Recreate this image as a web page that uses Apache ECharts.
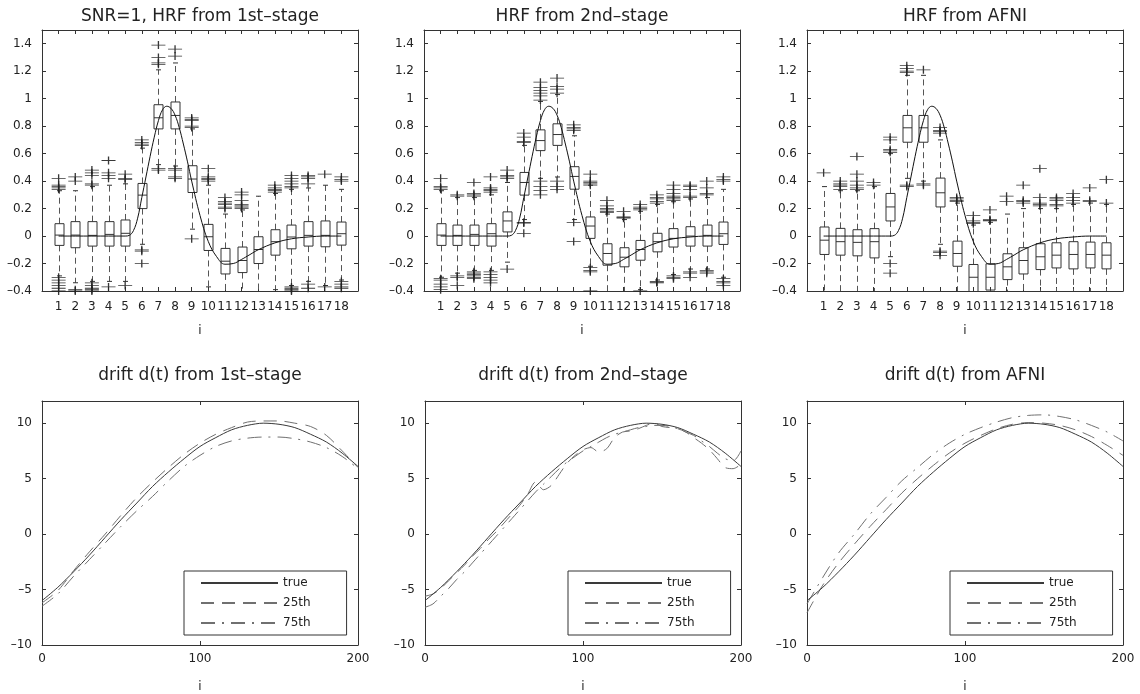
<!DOCTYPE html>
<html>
<head>
<meta charset="utf-8">
<script src="https://cdn.jsdelivr.net/npm/echarts@6/dist/echarts.min.js"></script>
<style>
  html, body { margin: 0; padding: 0; background: #fff; }
  #chart { width: 1140px; height: 694px; }
</style>
</head>
<body>
<div id="chart"></div>
<script>
// ---- top row: HRF boxplots (18 time points) ----
const categories = [1, 2, 3, 4, 5, 6, 7, 8, 9, 10, 11, 12, 13, 14, 15, 16, 17, 18];

// true HRF curve
const hrfX = [1, 2, 3, 4, 5, 5.25, 5.5, 5.75, 6, 6.25, 6.5, 6.75, 7, 7.25, 7.5, 7.75, 8, 8.25, 8.5, 8.75, 9, 9.5, 10, 10.5, 11, 11.5, 12, 12.5, 13, 14, 15, 16, 17, 18];
const hrfY = [0, 0, 0, 0, 0, 0.005, 0.04, 0.13, 0.28, 0.43, 0.58, 0.72, 0.84, 0.92, 0.945, 0.93, 0.88, 0.79, 0.67, 0.54, 0.40, 0.15, -0.04, -0.15, -0.205, -0.2, -0.17, -0.135, -0.10, -0.05, -0.02, -0.007, 0, 0];

// panel 1: 1st-stage
const p1Lo  = [-0.29, -0.34, -0.33, -0.33, -0.33, -0.06, 0.52, 0.51, 0.05, -0.37, -0.45, -0.45, -0.45, -0.39, -0.36, -0.33, -0.36, -0.32];
const p1Q1  = [-0.068, -0.085, -0.073, -0.073, -0.073, 0.20, 0.78, 0.78, 0.317, -0.105, -0.276, -0.266, -0.2, -0.139, -0.093, -0.073, -0.078, -0.066];
const p1Med = [0.007, 0.007, 0.005, 0.012, 0.02, 0.298, 0.861, 0.878, 0.415, -0.005, -0.183, -0.178, -0.098, -0.041, -0.007, 0.005, 0.005, 0.017];
const p1Q3  = [0.09, 0.105, 0.105, 0.105, 0.117, 0.383, 0.956, 0.976, 0.512, 0.085, -0.09, -0.08, -0.005, 0.046, 0.08, 0.105, 0.11, 0.102];
const p1Hi  = [0.33, 0.33, 0.36, 0.37, 0.38, 0.64, 1.21, 1.26, 0.78, 0.37, 0.16, 0.19, 0.29, 0.31, 0.34, 0.35, 0.37, 0.34];
const p1Out = [
  [0.34, 0.35, 0.36, 0.37, 0.42, -0.30, -0.32, -0.34, -0.36, -0.38, -0.40],
  [0.40, 0.43, -0.39, -0.40],
  [0.37, 0.38, 0.44, 0.46, 0.48, -0.34, -0.36, -0.38, -0.39, -0.40],
  [0.42, 0.44, 0.46, 0.55, -0.37],
  [0.41, 0.42, 0.45, -0.36],
  [0.66, 0.67, 0.68, 0.70, -0.10, -0.11, -0.20],
  [1.25, 1.26, 1.30, 1.39, 0.48, 0.49],
  [1.31, 1.36, 0.42, 0.43, 0.48, 0.49],
  [0.79, 0.80, 0.84, 0.85, 0.86, -0.02],
  [0.40, 0.41, 0.42, 0.43, 0.49],
  [0.20, 0.21, 0.23, 0.24, 0.25, 0.28],
  [0.20, 0.21, 0.22, 0.23, 0.26, 0.30, 0.32],
  [],
  [0.32, 0.33, 0.34, 0.35, 0.37],
  [0.35, 0.36, 0.38, 0.40, 0.42, 0.44, -0.37, -0.38, -0.39, -0.40],
  [0.38, 0.42, 0.43, 0.44, -0.35, -0.38],
  [0.45, -0.37],
  [0.40, 0.41, 0.43, -0.33, -0.35, -0.37, -0.38]
];

// panel 2: 2nd-stage
const p2Lo  = [-0.30, -0.27, -0.25, -0.25, -0.19, 0.12, 0.42, 0.43, 0.12, -0.22, -0.45, -0.45, -0.39, -0.32, -0.28, -0.24, -0.24, -0.30];
const p2Q1  = [-0.068, -0.068, -0.068, -0.073, 0.03, 0.298, 0.622, 0.66, 0.341, -0.017, -0.212, -0.224, -0.176, -0.115, -0.08, -0.073, -0.073, -0.061];
const p2Med = [0.007, 0.005, 0.012, 0.017, 0.11, 0.39, 0.695, 0.739, 0.434, 0.073, -0.127, -0.154, -0.098, -0.041, -0.017, 0, 0.005, 0.017];
const p2Q3  = [0.09, 0.08, 0.08, 0.09, 0.176, 0.463, 0.773, 0.817, 0.505, 0.139, -0.056, -0.085, -0.032, 0.02, 0.054, 0.068, 0.08, 0.102];
const p2Hi  = [0.33, 0.28, 0.28, 0.30, 0.39, 0.66, 0.98, 1.03, 0.73, 0.37, 0.16, 0.12, 0.18, 0.23, 0.25, 0.27, 0.28, 0.34];
const p2Out = [
  [0.34, 0.35, 0.36, 0.42, -0.31, -0.32, -0.35, -0.37, -0.39],
  [0.29, 0.30, -0.29, -0.30, -0.36],
  [0.29, 0.30, 0.31, 0.39, -0.26, -0.27, -0.28, -0.29, -0.30, -0.31],
  [0.32, 0.33, 0.34, 0.35, 0.43, -0.26, -0.28, -0.30, -0.32, -0.34],
  [0.42, 0.43, 0.44, 0.48, -0.24],
  [0.68, 0.69, 0.72, 0.75, 0.095, 0.10, 0.02],
  [0.99, 1.02, 1.04, 1.06, 1.08, 1.12, 0.30, 0.33, 0.36, 0.40],
  [1.04, 1.07, 1.09, 1.15, 0.34, 0.36, 0.40],
  [0.77, 0.78, 0.79, 0.81, 0.10, -0.04],
  [0.37, 0.38, 0.39, 0.40, 0.45, -0.23, -0.25, -0.26, -0.40],
  [0.17, 0.18, 0.19, 0.20, 0.22, 0.26],
  [0.13, 0.135, 0.14, 0.18],
  [0.19, 0.20, 0.21, 0.23, -0.40],
  [0.24, 0.25, 0.27, 0.28, 0.30, -0.33, -0.335, -0.34],
  [0.26, 0.27, 0.28, 0.29, 0.31, 0.34, 0.37, -0.29, -0.30, -0.31],
  [0.28, 0.29, 0.34, 0.36, 0.37, -0.26, -0.27, -0.30],
  [0.30, 0.31, 0.35, 0.40, -0.25, -0.26, -0.27],
  [0.40, 0.41, 0.43, -0.31, -0.33, -0.34, -0.36]
];

// panel 3: AFNI
const p3Lo  = [-0.45, -0.45, -0.45, -0.45, -0.15, 0.42, 0.40, -0.06, -0.45, -0.45, -0.45, -0.45, -0.45, -0.45, -0.45, -0.45, -0.45, -0.45];
const p3Q1  = [-0.134, -0.139, -0.144, -0.159, 0.11, 0.683, 0.683, 0.212, -0.22, -0.41, -0.393, -0.317, -0.276, -0.244, -0.232, -0.239, -0.232, -0.239];
const p3Med = [-0.03, -0.041, -0.046, -0.041, 0.212, 0.788, 0.788, 0.315, -0.127, -0.30, -0.30, -0.224, -0.178, -0.151, -0.139, -0.134, -0.134, -0.139];
const p3Q3  = [0.066, 0.056, 0.046, 0.054, 0.31, 0.878, 0.878, 0.422, -0.037, -0.207, -0.202, -0.129, -0.085, -0.056, -0.049, -0.041, -0.044, -0.049];
const p3Hi  = [0.36, 0.33, 0.33, 0.36, 0.60, 1.17, 1.17, 0.70, 0.24, 0.08, 0.10, 0.16, 0.20, 0.20, 0.20, 0.23, 0.24, 0.23];
const p3Out = [
  [0.46],
  [0.34, 0.36, 0.37, 0.38, 0.40],
  [0.34, 0.35, 0.37, 0.40, 0.45, 0.58],
  [0.37, 0.39],
  [0.61, 0.62, 0.63, 0.70, 0.72, -0.20, -0.27],
  [1.19, 1.20, 1.22, 1.24, 0.36, 0.37],
  [1.21, 0.37, 0.38],
  [0.75, 0.76, 0.77, 0.79, -0.11, -0.12, -0.14],
  [0.25, 0.26, 0.27, 0.28],
  [0.09, 0.10, 0.11, 0.15],
  [0.11, 0.115, 0.12, 0.19],
  [0.25, 0.29],
  [0.24, 0.25, 0.26, 0.37],
  [0.22, 0.23, 0.24, 0.28, 0.49],
  [0.22, 0.23, 0.26, 0.27, 0.28],
  [0.24, 0.26, 0.28, 0.31],
  [0.25, 0.26, 0.35],
  [0.24, 0.41]
];

const hrfTitles = ['SNR=1, HRF from 1st\u2013stage', 'HRF from 2nd\u2013stage', 'HRF from AFNI'];

// ---- bottom row: drift d(t) ----
const driftX = [0, 10, 20, 30, 40, 50, 60, 70, 80, 90, 100, 110, 120, 130, 140, 150, 160, 170, 180, 190, 200];
const driftTrue = [-6.0, -4.8, -3.4, -1.9, -0.3, 1.3, 2.8, 4.3, 5.6, 6.8, 7.9, 8.7, 9.4, 9.8, 10.0, 9.9, 9.6, 9.0, 8.3, 7.3, 6.1];
const d1Q25 = [-6.2, -5.1, -3.3, -1.6, 0.0, 1.7, 3.3, 4.7, 6.0, 7.2, 8.2, 9.0, 9.6, 10.1, 10.2, 10.2, 10.0, 9.7, 8.9, 7.5, 6.0];
const d1Q75 = [-6.5, -5.4, -3.8, -2.3, -0.8, 0.7, 2.1, 3.4, 4.8, 6.1, 7.1, 7.9, 8.4, 8.65, 8.75, 8.75, 8.6, 8.3, 7.8, 7.0, 5.9];
const d3Q25 = [-7.1, -4.6, -2.6, -0.9, 0.7, 2.2, 3.7, 5.0, 6.2, 7.3, 8.2, 8.9, 9.5, 9.9, 10.05, 10.0, 9.8, 9.4, 8.8, 8.0, 7.1];
const d3Q75 = [-6.3, -3.9, -1.7, 0.0, 1.8, 3.3, 4.8, 6.0, 7.2, 8.2, 9.0, 9.6, 10.1, 10.5, 10.7, 10.75, 10.6, 10.3, 9.8, 9.2, 8.4];
const driftX5 = [0, 5, 10, 15, 20, 25, 30, 35, 40, 45, 50, 55, 60, 65, 70, 75, 80, 85, 90, 95, 100, 105, 110, 115, 120, 125, 130, 135, 140, 145, 150, 155, 160, 165, 170, 175, 180, 185, 190, 195, 200];
const d2Q25 = [-5.6, -5.4, -4.9, -4.2, -3.5, -2.8, -2.0, -1.3, -0.5, 0.2, 1.0, 1.8, 2.6, 3.6, 4.7, 4.0, 4.4, 5.4, 6.4, 7.1, 7.6, 7.8, 7.4, 7.7, 8.7, 9.2, 9.3, 9.5, 9.8, 10.0, 9.7, 9.6, 9.5, 9.2, 8.7, 8.2, 7.6, 6.8, 6.0, 5.9, 6.3];
const d2Q75 = [-6.6, -6.3, -5.6, -4.9, -4.1, -3.4, -2.6, -1.8, -1.0, -0.2, 0.6, 1.4, 2.2, 3.0, 3.8, 4.5, 5.2, 5.9, 6.5, 7.0, 7.5, 7.9, 8.3, 8.7, 9.0, 9.2, 9.4, 9.6, 9.7, 9.8, 9.8, 9.7, 9.5, 9.2, 8.9, 8.4, 7.9, 7.3, 6.8, 6.6, 7.5];

const driftTitles = ['drift d(t) from 1st\u2013stage', 'drift d(t) from 2nd\u2013stage', 'drift d(t) from AFNI'];
const legendNames = ['true', '25th', '75th'];

// ---- layout ----
const FONT = '"DejaVu Sans", Verdana, sans-serif';
const INK = '#222';
const topLefts = [42, 424, 807];
const botLefts = [42, 425, 807];
const legendLefts = [184, 568, 950];

function pair(xs, ys) { return xs.map((x, i) => [x, ys[i]]); }

function tickText(v, skip) {
  if (skip.some(s => Math.abs(v - s) < 1e-9)) return '';
  return String(Math.round(v * 100) / 100).replace('-', '\u2013');
}

function makeAxes(gi, xCfg, yCfg, xName) {
  const base = {
    gridIndex: gi,
    type: 'value',
    axisLine: { show: true, onZero: false, lineStyle: { color: '#333', width: 1 } },
    axisTick: { show: true, inside: true, length: 4, lineStyle: { color: '#333' } },
    splitLine: { show: false }
  };
  const xs = [
    Object.assign({}, base, xCfg, {
      position: 'bottom',
      name: xName, nameLocation: 'middle', nameGap: xCfg.nameGap,
      nameTextStyle: { fontFamily: FONT, fontSize: 12, color: INK },
      axisLabel: { margin: xCfg.margin, fontFamily: FONT, fontSize: 12, color: INK,
        formatter: v => tickText(v, xCfg.skip) }
    }),
    Object.assign({}, base, xCfg, { position: 'top', axisLabel: { show: false } })
  ];
  const ys = [
    Object.assign({}, base, yCfg, {
      position: 'left',
      axisLabel: { margin: 10, fontFamily: FONT, fontSize: 12, color: INK,
        formatter: v => tickText(v, yCfg.skip) }
    }),
    Object.assign({}, base, yCfg, { position: 'right', axisLabel: { show: false } })
  ];
  xs.forEach(a => { delete a.skip; delete a.margin; });
  ys.forEach(a => { delete a.skip; });
  return { xs, ys };
}

function renderBox(params, api) {
  const x = api.value(0);
  const pLo = api.coord([x, api.value(1)]);
  const pQ1 = api.coord([x, api.value(2)]);
  const pMd = api.coord([x, api.value(3)]);
  const pQ3 = api.coord([x, api.value(4)]);
  const pHi = api.coord([x, api.value(5)]);
  const cx = Math.round(pMd[0]) + 0.5;
  const hw = 4.5, cw = 2.5;
  const cs = params.coordSys;
  const boxStyle = { stroke: '#333', fill: null, lineWidth: 1 };
  const whiskStyle = { stroke: '#555', fill: null, lineWidth: 1, lineDash: [6, 4] };
  return {
    type: 'group',
    clipPath: { type: 'rect', shape: { x: cs.x, y: cs.y, width: cs.width, height: cs.height } },
    children: [
      { type: 'line', shape: { x1: cx, y1: pQ3[1], x2: cx, y2: pHi[1] }, style: whiskStyle },
      { type: 'line', shape: { x1: cx, y1: pQ1[1], x2: cx, y2: pLo[1] }, style: whiskStyle },
      { type: 'line', shape: { x1: cx - cw, y1: pHi[1], x2: cx + cw, y2: pHi[1] }, style: boxStyle },
      { type: 'line', shape: { x1: cx - cw, y1: pLo[1], x2: cx + cw, y2: pLo[1] }, style: boxStyle },
      { type: 'rect', shape: { x: cx - hw, y: pQ3[1], width: 2 * hw, height: pQ1[1] - pQ3[1] }, style: boxStyle },
      { type: 'line', shape: { x1: cx - hw, y1: pMd[1], x2: cx + hw, y2: pMd[1] }, style: boxStyle }
    ]
  };
}

const hrfPanels = [
  [p1Lo, p1Q1, p1Med, p1Q3, p1Hi, p1Out],
  [p2Lo, p2Q1, p2Med, p2Q3, p2Hi, p2Out],
  [p3Lo, p3Q1, p3Med, p3Q3, p3Hi, p3Out]
];
const driftPanels = [
  [driftX, d1Q25, driftX, d1Q75],
  [driftX5, d2Q25, driftX5, d2Q75],
  [driftX, d3Q25, driftX, d3Q75]
];

const grid = [], xAxis = [], yAxis = [], series = [], title = [], legend = [];
const plusSymbol = 'path://M0,5H14M7,0V10';

hrfPanels.forEach((p, i) => {
  grid.push({ left: topLefts[i], top: 30, width: 316, height: 261 });
  const ax = makeAxes(i,
    { min: 0, max: 19, interval: 1, skip: [0, 19], margin: 10, nameGap: 34 },
    { min: -0.4, max: 1.5, interval: 0.2, skip: [1.5] }, 'i');
  xAxis.push(...ax.xs); yAxis.push(...ax.ys);
  const [lo, q1, md, q3, hi, out] = p;
  const boxData = categories.map((c, k) => [c, lo[k], q1[k], md[k], q3[k], hi[k]]);
  const outData = [];
  categories.forEach((c, k) => out[k].forEach(v => outData.push([c, v])));
  series.push({
    type: 'custom', xAxisIndex: 2 * i, yAxisIndex: 2 * i, silent: true,
    renderItem: renderBox, encode: { x: 0, y: [1, 2, 3, 4, 5] }, data: boxData, z: 2
  });
  series.push({
    type: 'scatter', xAxisIndex: 2 * i, yAxisIndex: 2 * i, silent: true,
    symbol: plusSymbol, symbolSize: [14, 8],
    itemStyle: { color: 'rgba(0,0,0,0)', borderColor: '#222', borderWidth: 1, opacity: 0.9 },
    data: outData, z: 3
  });
  series.push({
    type: 'line', xAxisIndex: 2 * i, yAxisIndex: 2 * i, silent: true,
    data: pair(hrfX, hrfY), smooth: 0.4, symbol: 'none',
    lineStyle: { color: '#111', width: 1 }, z: 4
  });
  title.push({
    text: hrfTitles[i], left: topLefts[i] + 158, top: 8, textAlign: 'center', padding: 0,
    textStyle: { fontFamily: FONT, fontSize: 17, fontWeight: 'normal', color: INK }
  });
});

driftPanels.forEach((p, j) => {
  const gi = 3 + j;
  grid.push({ left: botLefts[j], top: 401, width: 316, height: 249 });
  const ax = makeAxes(gi,
    { min: 0, max: 200, interval: 100, skip: [], margin: 8, nameGap: 36 },
    { min: -10, max: 12, interval: 5, skip: [12] }, 'i');
  xAxis.push(...ax.xs); yAxis.push(...ax.ys);
  const [xa, qa, xb, qb] = p;
  const common = { type: 'line', xAxisIndex: 2 * gi, yAxisIndex: 2 * gi, silent: true, symbol: 'none' };
  series.push(Object.assign({}, common, {
    name: 'true', data: pair(driftX, driftTrue), smooth: 0.3,
    lineStyle: { color: '#3a3a3a', width: 1, type: 'solid' }, z: 4
  }));
  series.push(Object.assign({}, common, {
    name: '25th', data: pair(xa, qa), smooth: 0.3,
    lineStyle: { color: '#707070', width: 1, type: [13, 8] }, z: 3
  }));
  series.push(Object.assign({}, common, {
    name: '75th', data: pair(xb, qb), smooth: 0.3,
    lineStyle: { color: '#707070', width: 1, type: [14, 7, 2, 7] }, z: 3
  }));
  title.push({
    text: driftTitles[j], left: botLefts[j] + 158, top: 367, textAlign: 'center', padding: 0,
    textStyle: { fontFamily: FONT, fontSize: 17, fontWeight: 'normal', color: INK }
  });
  legend.push({
    left: legendLefts[j], top: 571, orient: 'vertical',
    data: legendNames, selectedMode: false,
    itemWidth: 77, itemHeight: 10, itemGap: 8,
    padding: [6, 36, 6, 16],
    borderColor: '#333', borderWidth: 1, backgroundColor: '#fff',
    itemStyle: { opacity: 0 },
    textStyle: { fontFamily: FONT, fontSize: 12, color: INK }
  });
});

const chart = echarts.init(document.getElementById('chart'), null, { renderer: 'canvas' });
chart.setOption({
  animation: false,
  backgroundColor: '#fff',
  textStyle: { fontFamily: FONT },
  title, legend, grid, xAxis, yAxis, series
});
window.addEventListener('resize', chart.resize);
</script>
</body>
</html>
